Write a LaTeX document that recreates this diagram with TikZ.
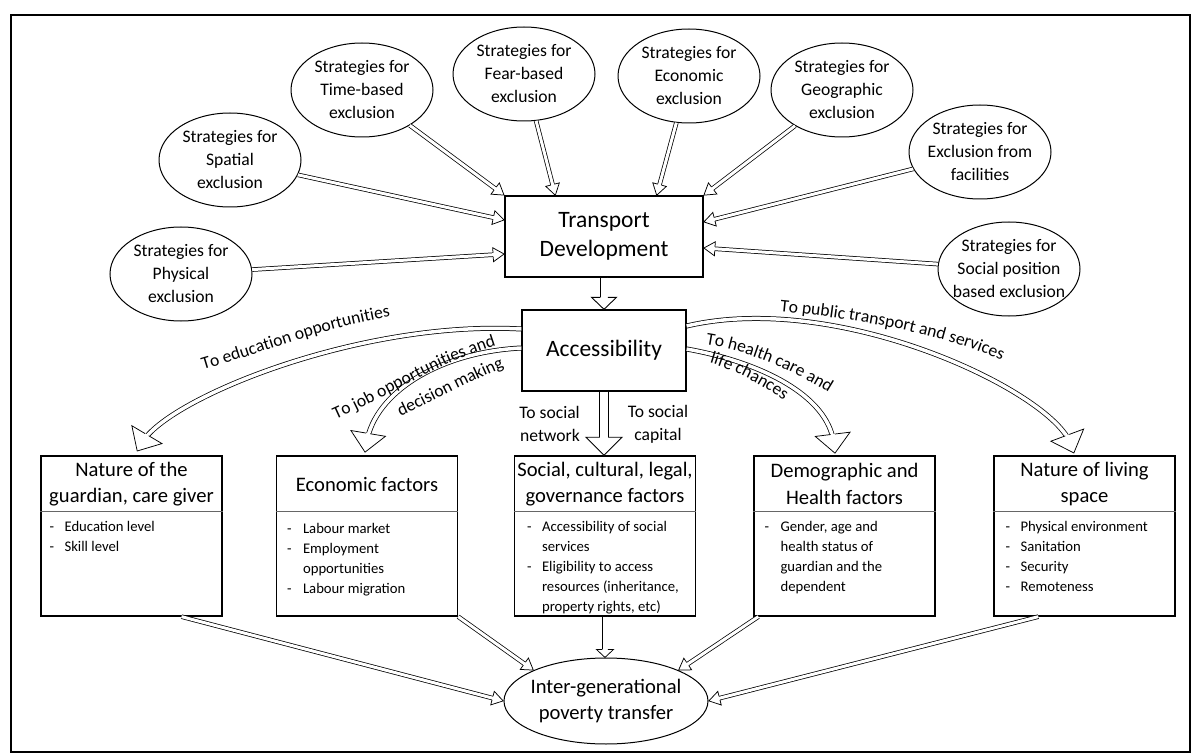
\documentclass[tikz,border=0pt]{standalone}
\usepackage{fontspec}
\setmainfont{Carlito}
\usetikzlibrary{shapes.geometric,decorations.markings,decorations.text,calc}
\newcommand\lblfont{\fontsize{17.6}{23}\selectfont}
\begin{document}
\begin{tikzpicture}[x=1pt,y=-1pt,
  ell/.style={ellipse, draw, line width=1pt, minimum width=142pt, minimum height=94pt, inner sep=0pt},
  elltxt/.style={align=center, inner sep=0pt, font=\fontsize{17.6}{23}\selectfont},
  mainbox/.style={draw, line width=1.3pt, align=center, inner sep=0pt, minimum height=81pt, font=\fontsize{23.5}{29}\selectfont},
  factbox/.style={draw, line width=1.3pt, minimum width=181pt, minimum height=160pt, inner sep=0pt},
  headtxt/.style={align=center, inner sep=0pt, font=\fontsize{20.6}{26.5}\selectfont},
  listtxt/.style={align=left, inner sep=0pt, anchor=north west, font=\fontsize{14.7}{20}\selectfont},
  divider/.style={draw=black!60, line width=0.8pt},
  labtxt/.style={align=center, inner sep=0pt, font=\fontsize{17.6}{23}\selectfont},
  harr/.style n args={5}{draw=black, line width=#1pt, double=white, double distance=#2pt, shorten >=#5pt,
    postaction={decorate},
    decoration={markings, mark=at position 0.999 with {
      \fill[white, shorten >=0pt, shorten <=0pt] (0pt,0pt) -- (-#3pt,#4pt) -- (-#3pt,-#4pt) -- cycle;
      \draw[black, line width=#1pt, line join=miter, shorten >=0pt, shorten <=0pt]
        (-#3pt,{0.5*#2pt+0.5*#1pt}) -- (-#3pt,#4pt) -- (0pt,0pt) -- (-#3pt,-#4pt) -- (-#3pt,{-0.5*#2pt-0.5*#1pt});
    }}},
  sarr/.style={harr={0.75}{3}{11}{7}{6}},
  carr/.style={harr={0.75}{3.5}{19}{17.5}{10}},
  blkA/.style={harr={0.9}{7}{12}{12.5}{8}},
  blkB/.style={harr={0.9}{8}{18}{18}{10}},
  blkC/.style={harr={0.75}{5}{8}{8.5}{5}},
  curvelab/.style={decorate, decoration={text along path, text align=center, text={|\lblfont|#1}}}
]
\useasboundingbox (0,0) rectangle (1192,754);
\fill[white] (0,0) rectangle (1192,754);
\draw[line width=2pt] (11,15) rectangle (1190,752);

% strategy ellipses
\node[ell] (time) at (362,90) {};
\node[ell] (fear) at (524,74) {};
\node[ell] (econE) at (689,76) {};
\node[ell] (geo) at (842,90) {};
\node[ell] (fac) at (980,152) {};
\node[ell] (socp) at (1009,269) {};
\node[ell] (spat) at (230,160) {};
\node[ell] (phys) at (181,274) {};
\node[elltxt] (timeT) at (time) {Strategies for\\Time-based\\exclusion};
\node[elltxt] (fearT) at (fear) {Strategies for\\Fear-based\\exclusion};
\node[elltxt] (econET) at (econE) {Strategies for\\Economic\\exclusion};
\node[elltxt] (geoT) at (geo) {Strategies for\\Geographic\\exclusion};
\node[elltxt] (facT) at (fac) {Strategies for\\Exclusion from\\facilities};
\node[elltxt] (socpT) at (socp) {Strategies for\\Social position\\based exclusion};
\node[elltxt] (spatT) at (spat) {Strategies for\\Spatial\\exclusion};
\node[elltxt] (physT) at (phys) {Strategies for\\Physical\\exclusion};

% central boxes
\node[mainbox, minimum width=198pt] (td) at (604,236.5) {Transport\\Development};
\node[mainbox, minimum width=164pt] (acc) at (604,350.5) {Accessibility};

% factor boxes
\node[factbox] (gbox) at (131.5,536) {};
\node[factbox] (ebox) at (367,536) {};
\node[factbox] (sbox) at (605,536) {};
\node[factbox] (dbox) at (844.5,536) {};
\node[factbox] (lbox) at (1084.5,536) {};
\foreach \b in {gbox,ebox,sbox,dbox,lbox}{
  \draw[divider] ($(\b.north west)+(0,56)$) -- ($(\b.north east)+(0,56)$);
}
\node[headtxt] (gh) at (131.5,484) {Nature of the\\guardian, care giver};
\node[headtxt] (eh) at (367,484) {Economic factors};
\node[headtxt] (sh) at (605,484) {Social, cultural, legal,\\governance factors};
\node[headtxt] (dh) at (844.5,484) {Demographic and\\Health factors};
\node[headtxt] (lh) at (1084.5,484) {Nature of living\\space};

\node[listtxt] (gl) at ($(gbox.north west)+(9,66)$) {\makebox[15pt][l]{-}Education level\\\makebox[15pt][l]{-}Skill level};
\node[listtxt] (el) at ($(ebox.north west)+(11,68)$) {\makebox[16pt][l]{-}Labour market\\\makebox[16pt][l]{-}Employment\\\makebox[16pt][l]{}opportunities\\\makebox[16pt][l]{-}Labour migration};
\node[listtxt] (sl) at ($(sbox.north west)+(13,66)$) {\makebox[15pt][l]{-}Accessibility of social\\\makebox[15pt][l]{}services\\\makebox[15pt][l]{-}Eligibility to access\\\makebox[15pt][l]{}resources (inheritance,\\\makebox[15pt][l]{}property rights, etc)};
\node[listtxt] (dl) at ($(dbox.north west)+(11,66)$) {\makebox[16pt][l]{-}Gender, age and\\\makebox[16pt][l]{}health status of\\\makebox[16pt][l]{}guardian and the\\\makebox[16pt][l]{}dependent};
\node[listtxt] (ll) at ($(lbox.north west)+(12,66)$) {\makebox[15pt][l]{-}Physical environment\\\makebox[15pt][l]{-}Sanitation\\\makebox[15pt][l]{-}Security\\\makebox[15pt][l]{-}Remoteness};

% outcome ellipse
\node[ellipse, draw, line width=1pt, minimum width=204pt, minimum height=86pt, inner sep=0pt] (inter) at (606,701) {};
\node[headtxt] (interT) at (inter) {Inter-generational\\poverty transfer};

% arrows from strategies
\draw[sarr] (phys) -- ($(td.west)+(0,17.5)$);
\draw[sarr] (spat) -- ($(td.west)+(0,-16.5)$);
\draw[sarr] (time) -- (td.north west);
\draw[sarr] (fear) -- ($(td.north west)+(51,0)$);
\draw[sarr] (econE) -- ($(td.north east)+(-47,0)$);
\draw[sarr] (geo) -- (td.north east);
\draw[sarr] (fac) -- ($(td.east)+(0,-14.5)$);
\draw[sarr] (socp) -- ($(td.east)+(0,11.5)$);

% transport -> accessibility
\draw[blkA] (td.south) -- (acc.north);

% accessibility -> factors
\draw[carr] ($(acc.west)+(0,-21.5)$) .. controls (360,320) and (168,398) .. ($(gbox.north)+(5.5,-4)$);
\draw[carr] ($(acc.west)+(0,-2.5)$) .. controls (440,352) and (375,392) .. ($(ebox.north)+(-2,-3)$);
\draw[blkB] (acc.south) -- (acc.south |- sbox.north);
\draw[carr] ($(acc.east)+(0,-1.5)$) .. controls (760,362) and (828,395) .. ($(dbox.north)+(-9.5,-2)$);
\draw[carr] ($(acc.east)+(0,-24.5)$) .. controls (840,290) and (1052,392) .. ($(lbox.north)+(-10.5,-2)$);

% labels of accessibility arrows
\path[curvelab={To education opportunities}] (200,371) .. controls (265,352) and (325,327) .. (394,316);
\path[curvelab={To job opportunities and}] (332,421) .. controls (385,398) and (440,362) .. (500,344);
\path[curvelab={decision making}] (398,418) .. controls (432,402) and (472,380) .. (507,366);
\path[curvelab={To public transport and services}] (776,311) .. controls (850,318) and (940,332) .. (1005,362);
\path[curvelab={To health care and}] (703,344) .. controls (745,350) and (790,368) .. (831,394);
\path[curvelab={life chances}] (707,362) .. controls (735,370) and (762,385) .. (786,402);
\node[labtxt, align=right, anchor=east] (netT) at (580,424) {To social\\network};
\node[labtxt] (capT) at (658,424) {To social\\capital};

% factors -> outcome
\draw[sarr] ($(gbox.south)+(50,0)$) -- (inter.west);
\draw[sarr] (ebox.south east) -- (inter.157);
\draw[blkC] (sbox.south) -- (sbox.south |- inter.north);
\draw[sarr] ($(dbox.south west)+(5,0)$) -- (inter.23);
\draw[sarr] ($(lbox.south west)+(45,0)$) -- (inter.east);
\end{tikzpicture}
\end{document}
